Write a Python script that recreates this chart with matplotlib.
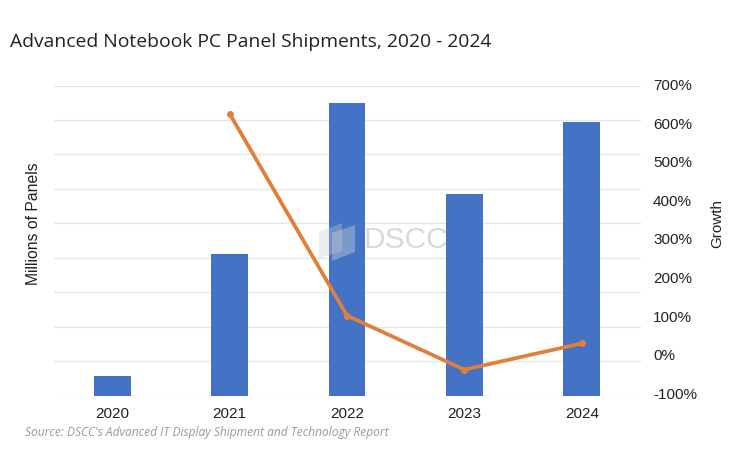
import numpy as np
from matplotlib import pyplot as plt
from matplotlib.patches import Polygon
from matplotlib.transforms import ScaledTranslation

years = ["2020", "2021", "2022", "2023", "2024"]
# left axis has no printed numbers, so values are in gridline steps
panels = [0.58, 4.1, 8.5, 5.85, 7.95]
growth_years = ["2021", "2022", "2023", "2024"]
growth = [630, 107, -33, 35]
growth_ticks = [-100, 0, 100, 200, 300, 400, 500, 600, 700]

W, H = 743, 467
plt.rcParams['font.family'] = ['Liberation Sans', 'DejaVu Sans']

fig = plt.figure(figsize=(W / 100, H / 100), dpi=100)
ax = fig.add_axes([53.5 / W, 1 - 395.5 / H, 587 / W, 310 / H])

x = np.arange(len(years))
ax.bar(x, panels, width=0.315, color="#4472c4", zorder=2)
ax.set_xlim(-0.5, 4.5)
ax.set_ylim(0, 9)
ax.set_yticks(range(10))
ax.set_yticklabels([])
ax.set_xticks(x)
ax.set_xticklabels(years, fontsize=11, color="#222222")
ax.tick_params(length=0)
ax.tick_params(axis="x", pad=8)
ax.grid(axis="y", color="#e6e6e6", lw=1, zorder=0)
ax.set_axisbelow(True)
for s in ax.spines.values():
    s.set_visible(False)

ax2 = ax.twinx()
gx = [years.index(y) for y in growth_years]
ax2.plot(gx, growth, color="#e07f3a", lw=2.7, marker="o", ms=4, solid_capstyle="round", zorder=3)
ax2.set_ylim(-100, 703)
ax2.set_yticks(growth_ticks)
ax2.set_yticklabels([f"{t}%" for t in growth_ticks], fontsize=11, color="#222222")
ax2.tick_params(length=0, pad=9)
up = ScaledTranslation(0, 1.5 / 72, fig.dpi_scale_trans)
for lab in ax2.get_yticklabels():
    lab.set_transform(lab.get_transform() + up)
for s in ax2.spines.values():
    s.set_visible(False)

fig.text(33 / W, 1 - 224 / H, "Millions of Panels", rotation=90, fontsize=11.3,
         ha="center", va="center", color="#222222")
fig.text(717 / W, 1 - 223 / H, "Growth", rotation=90, fontsize=11,
         ha="center", va="center", color="#222222")
fig.text(10 / W, 1 - 42 / H, "Advanced Notebook PC Panel Shipments, 2020 - 2024",
         fontsize=13.9, family="Open Sans", weight="medium", ha="left", va="center", color="#222222")
fig.text(25 / W, 1 - 432.5 / H, "Source: DSCC's Advanced IT Display Shipment and Technology Report",
         fontsize=8.65, family="Open Sans", style="italic", ha="left", va="center", color="#9a9a9a")

# watermark
fig.text(364 / W, 1 - 240 / H, "DSCC", fontsize=21.5, ha="left", va="center",
         color="#9aa3ad", alpha=0.4, zorder=5)
for pts, a in [([(319, 232), (342, 223), (342, 251), (319, 259)], 0.35),
               (([(332, 233), (355, 225), (355, 252), (332, 261)]), 0.45)]:
    fig.add_artist(Polygon([(p / W, 1 - q / H) for p, q in pts], closed=True,
                           transform=fig.transFigure, color="#c3c9d0", alpha=a, lw=0, zorder=5))

fig.savefig("out.png", dpi=100)
